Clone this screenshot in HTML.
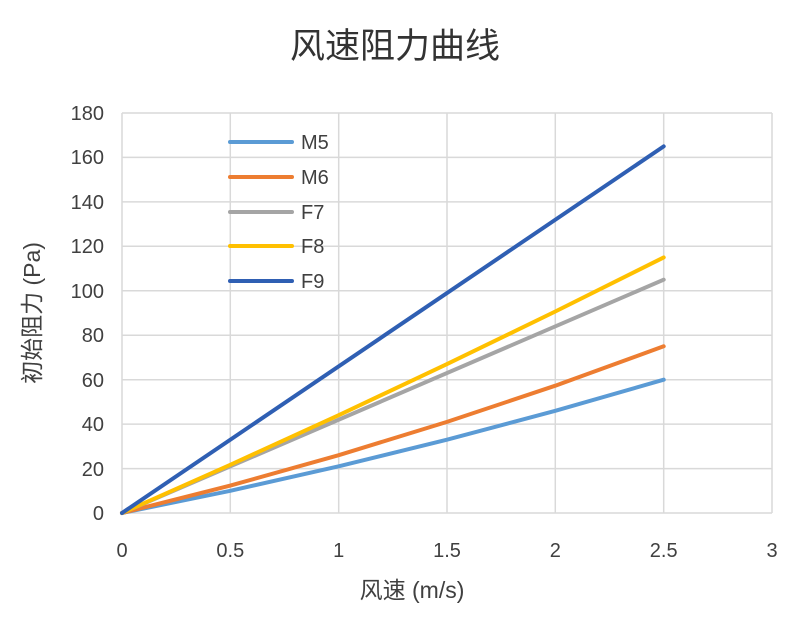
<!DOCTYPE html>
<html><head><meta charset="utf-8"><style>
body{margin:0;background:#fff;}
svg{display:block;font-family:"Liberation Sans","Noto Sans CJK SC",sans-serif;}
</style></head><body>
<svg width="790" height="626" viewBox="0 0 790 626">
<text x="395" y="58" text-anchor="middle" font-size="35" fill="#333">风速阻力曲线</text>
<g stroke="#d9d9d9" stroke-width="1.5">
<line x1="122" y1="113" x2="772" y2="113"/><line x1="122" y1="157.4" x2="772" y2="157.4"/><line x1="122" y1="201.9" x2="772" y2="201.9"/><line x1="122" y1="246.3" x2="772" y2="246.3"/><line x1="122" y1="290.8" x2="772" y2="290.8"/><line x1="122" y1="335.2" x2="772" y2="335.2"/><line x1="122" y1="379.7" x2="772" y2="379.7"/><line x1="122" y1="424.1" x2="772" y2="424.1"/><line x1="122" y1="468.6" x2="772" y2="468.6"/><line x1="122" y1="513" x2="772" y2="513"/>
<line x1="122" y1="113" x2="122" y2="513"/><line x1="230.3" y1="113" x2="230.3" y2="513"/><line x1="338.7" y1="113" x2="338.7" y2="513"/><line x1="447" y1="113" x2="447" y2="513"/><line x1="555.3" y1="113" x2="555.3" y2="513"/><line x1="663.7" y1="113" x2="663.7" y2="513"/><line x1="772" y1="113" x2="772" y2="513"/>
</g>
<g font-size="20" fill="#404040" text-anchor="end">
<text x="104" y="120">180</text><text x="104" y="164">160</text><text x="104" y="209">140</text><text x="104" y="253">120</text><text x="104" y="298">100</text><text x="104" y="342">80</text><text x="104" y="387">60</text><text x="104" y="431">40</text><text x="104" y="476">20</text><text x="104" y="520">0</text>
</g>
<g font-size="20" fill="#404040" text-anchor="middle">
<text x="122" y="557">0</text><text x="230.3" y="557">0.5</text><text x="338.7" y="557">1</text><text x="447" y="557">1.5</text><text x="555.3" y="557">2</text><text x="663.7" y="557">2.5</text><text x="772" y="557">3</text>
</g>
<text x="412" y="598" text-anchor="middle" font-size="23" fill="#404040">风速 (m/s)</text>
<text transform="translate(40,313) rotate(-90)" text-anchor="middle" font-size="23" fill="#404040">初始阻力 (Pa)</text>
<g fill="none" stroke-width="4" stroke-linecap="round" stroke-linejoin="round">
<polyline stroke="#5b9bd5" points="122,513 230.3,490.8 338.7,466.3 447,439.7 555.3,410.8 663.7,379.7"/>
<polyline stroke="#ed7d31" points="122,513 230.3,485.6 338.7,455.2 447,421.9 555.3,385.7 663.7,346.3"/>
<polyline stroke="#a5a5a5" points="122,513 663.7,279.7"/>
<polyline stroke="#ffc000" points="122,513 230.3,464.8 338.7,415.2 447,364.1 555.3,311.5 663.7,257.4"/>
<polyline stroke="#2f5fb3" points="122,513 663.7,146.4"/>
</g>
<g stroke-width="4" stroke-linecap="round">
<line x1="230" y1="142" x2="292" y2="142" stroke="#5b9bd5"/>
<line x1="230" y1="177" x2="292" y2="177" stroke="#ed7d31"/>
<line x1="230" y1="212" x2="292" y2="212" stroke="#a5a5a5"/>
<line x1="230" y1="246" x2="292" y2="246" stroke="#ffc000"/>
<line x1="230" y1="281" x2="292" y2="281" stroke="#2f5fb3"/>
</g>
<g font-size="20" fill="#404040">
<text x="301" y="149">M5</text><text x="301" y="184">M6</text><text x="301" y="219">F7</text><text x="301" y="253">F8</text><text x="301" y="288">F9</text>
</g>
</svg>
</body></html>
